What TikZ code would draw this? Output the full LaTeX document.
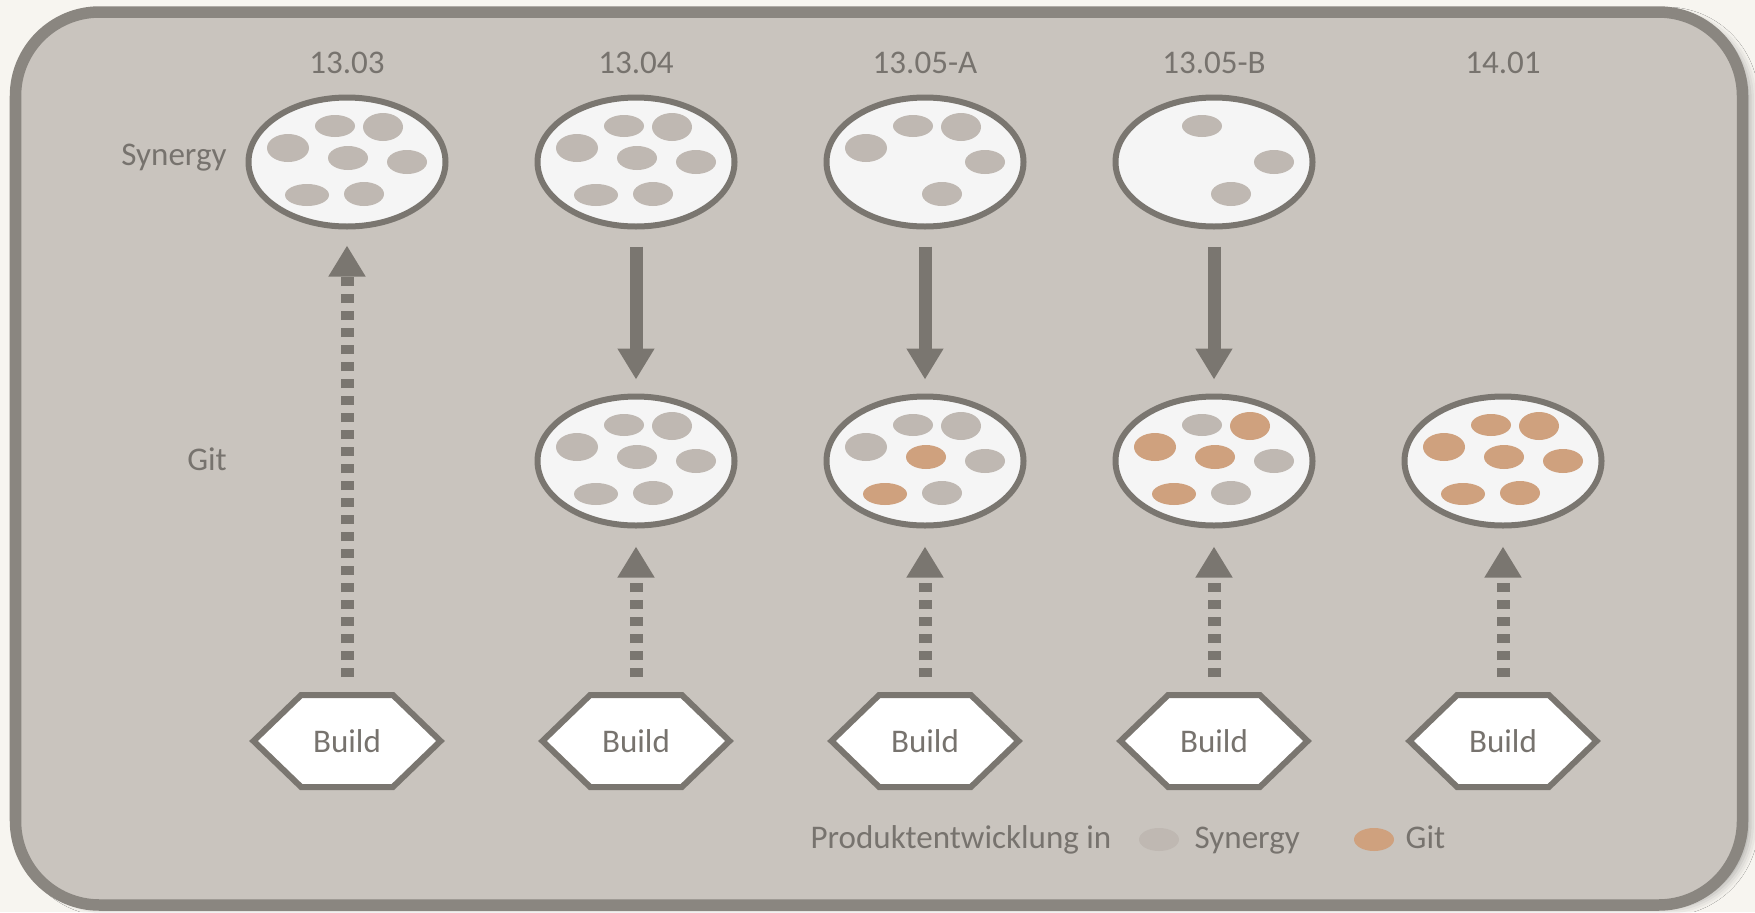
\documentclass[tikz,border=0pt]{standalone}
\usepackage{fontspec}
\setmainfont{Carlito}
\usetikzlibrary{arrows.meta, shapes.geometric, shapes.symbols, calc, shadows.blur}
\definecolor{paper}{HTML}{F7F5F0}
\definecolor{panel}{HTML}{C9C4BE}
\definecolor{framecol}{HTML}{8A8680}
\definecolor{inkcol}{HTML}{7A7670}
\definecolor{txtcol}{HTML}{77736E}
\definecolor{poolfill}{HTML}{F5F5F5}
\definecolor{syncol}{HTML}{BFB8B2}
\definecolor{gitcol}{HTML}{CFA17E}
\tikzset{
  every node/.append style={font=\fontsize{9.4}{11}\selectfont, text=txtcol},
  pool/.style={ellipse, draw=inkcol, line width=0.06cm, fill=poolfill,
               minimum width=1.97cm, minimum height=1.29cm, inner sep=0pt},
  buildbox/.style={signal, signal to=west and east, signal pointer angle=88,
                   draw=inkcol, line width=0.06cm, fill=white,
                   minimum width=1.87cm, minimum height=0.92cm, inner sep=0pt},
  blobS/.style={fill=syncol},
  blobG/.style={fill=gitcol},
  blobN/.style={fill=none},
  push/.style={-{Triangle[width=0.35cm,length=0.31cm]}, inkcol, line width=0.13cm},
  feed/.style={push, dash pattern=on 0.09cm off 0.08cm},
  legkey/.style={ellipse, minimum width=0.40cm, minimum height=0.23cm, inner sep=0pt},
}
% blob spots inside a pool (offset from its centre, radii)
\def\blobx{{-0.12,0.36,-0.59,0.01,0.60,-0.40,0.17}}
\def\bloby{{0.36,0.35,0.14,0.04,0.00,-0.33,-0.32}}
\def\blobrx{{0.20,0.20,0.21,0.20,0.20,0.22,0.20}}
\def\blobry{{0.11,0.14,0.14,0.12,0.12,0.11,0.12}}

\begin{document}
\begin{tikzpicture}
\useasboundingbox (0,0) rectangle (17.55,-9.12);
\fill[paper] (0,0) rectangle (17.55,-9.12);

% ── Panel ─────────────────────────────────────────────────────────────────
\draw[framecol, line width=0.115cm, fill=panel, rounded corners=0.84cm,
      blur shadow={shadow xshift=0.08cm, shadow yshift=-0.03cm,
                   shadow blur radius=0.08cm, shadow opacity=30}]
     (0.155,-0.12) rectangle (17.425,-9.05);

% ── Versions and builds ───────────────────────────────────────────────────
\foreach \v/\x/\ver in {1/3.47/13.03, 2/6.36/13.04, 3/9.25/13.05-A,
                        4/12.14/13.05-B, 5/15.03/14.01} {
  \node[anchor=base] (ver\v) at (\x,-0.73) {\ver};
  \node[buildbox] (build\v) at (\x,-7.41) {Build};
}
\node[anchor=base] (synlbl) at (1.74,-1.65) {Synergy};
\node[anchor=base] (gitlbl) at (2.07,-4.70) {Git};

% ── Pools ─────────────────────────────────────────────────────────────────
\foreach \v/\x in {1/3.47, 2/6.36, 3/9.25, 4/12.14}
  \node[pool] (syn\v) at (\x,-1.62) {};
\foreach \v/\x in {2/6.36, 3/9.25, 4/12.14, 5/15.03}
  \node[pool] (git\v) at (\x,-4.61) {};

\foreach \p/\cols in {syn1/{S,S,S,S,S,S,S}, syn2/{S,S,S,S,S,S,S},
                      syn3/{S,S,S,N,S,N,S}, syn4/{S,N,N,N,S,N,S},
                      git2/{S,S,S,S,S,S,S}, git3/{S,S,S,G,S,G,S},
                      git4/{S,G,G,G,S,G,S}, git5/{G,G,G,G,G,G,G}}
  \foreach \c [count=\k from 0] in \cols {
    \pgfmathsetmacro\dx{\blobx[\k]}
    \pgfmathsetmacro\dy{\bloby[\k]}
    \pgfmathsetmacro\rx{\blobrx[\k]}
    \pgfmathsetmacro\ry{\blobry[\k]}
    \fill[blob\c] ($(\p)+(\dx,\dy)$) ellipse ({\rx} and {\ry});
  }

% ── Arrows ────────────────────────────────────────────────────────────────
\draw[feed, shorten <=0.15cm, shorten >=0.16cm] (build1.north) -- (syn1.south);
\foreach \v in {2,...,5}
  \draw[feed, shorten <=0.15cm, shorten >=0.18cm] (build\v.north) -- (git\v.south);
\foreach \v in {2,3,4}
  \draw[push, shorten <=0.17cm, shorten >=0.14cm] (syn\v.south) -- (git\v.north);

% ── Legend ────────────────────────────────────────────────────────────────
\node[anchor=base] (legtxt) at (9.61,-8.48) {Produktentwicklung in};
\node[legkey, fill=syncol] (legsyn) at (11.59,-8.395) {};
\node[anchor=base west, inner sep=0pt] (legsyntxt) at (11.94,-8.48) {Synergy};
\node[legkey, fill=gitcol] (leggit) at (13.74,-8.395) {};
\node[anchor=base west, inner sep=0pt] (leggittxt) at (14.05,-8.48) {Git};

\end{tikzpicture}
\end{document}
